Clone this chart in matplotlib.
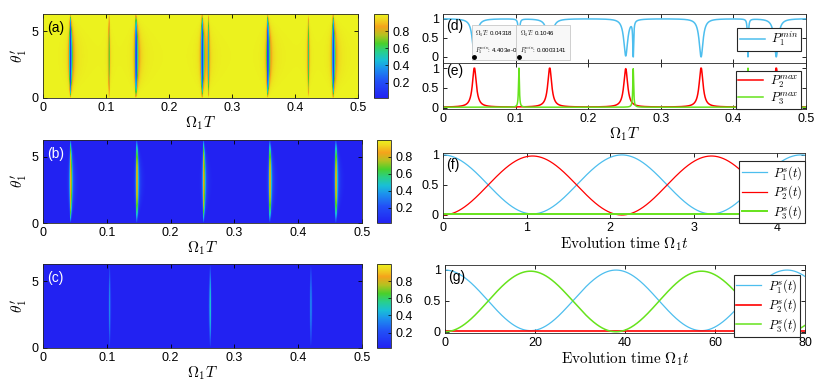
import numpy as np
import matplotlib
matplotlib.use('Agg')
import matplotlib.pyplot as plt
from matplotlib.colors import LinearSegmentedColormap

plt.rcParams['font.family'] = ['Liberation Sans', 'DejaVu Sans']
plt.rcParams['mathtext.fontset'] = 'cm'
plt.rcParams['font.size'] = 9

# Resonance positions (Omega_1 T) (a)-(e)
strong_pos = [0.0432, 0.147, 0.2517, 0.3555, 0.459]    # P2 resonances
narrow_pos = [0.1046, 0.262, 0.42]                     # P3 resonances
strong_height = [1.0, 1.0, 0.97, 1.0, 1.0]
narrow_height = [1.0, 0.97, 1.0]
strong_width = 0.0032
narrow_width = 0.0007
# thin stripes in (c) only reach these colours on screen
heat_strong_height = [0.98, 0.98, 0.96, 0.98, 0.97]
heat_narrow_height = [0.5, 0.72, 0.55]
heat_width_left = 0.0012
heat_width_right = 0.0024
heat_narrow_width = 0.0008
baseline = 0.015

# data tips in (d)
tip_x = [0.04318, 0.1046]
tip_xtxt = ['0.04318', '0.1046']
tip_ptxt = ['4.403e-06', '0.0003141']

# time evolution (f) and (g)
f_tmax = 4.33
f_half_period = 1.07
g_tmax = 80
g_half_period = 19.0
swap_peak = 0.98
leak = 0.012

blue = '#4dbeee'
red = '#ff0000'
green = '#66e31c'

cmap = LinearSegmentedColormap.from_list('parula_like', [
    (0.0, '#2222f2'), (0.2, '#2250f6'), (0.35, '#1c92ee'), (0.45, '#19bfd6'),
    (0.55, '#28cf8c'), (0.65, '#48d02c'), (0.75, '#b4c220'), (0.85, '#f5a31b'),
    (0.93, '#f0d21f'), (1.0, '#ecf21e')])


def lorentz(x, c, wl, wr):
    w = np.where(x < c, wl, wr)
    return 1.0 / (1.0 + ((x - c) / w) ** 2)


def style(ax):
    ax.tick_params(direction='in', length=3, width=0.6, top=True, right=True,
                   labelsize=9, pad=3)
    for s in ax.spines.values():
        s.set_linewidth(0.6)
        s.set_color('#262626')


def legend(ax, anchor, lspace=0.15):
    leg = ax.legend(loc='upper right', bbox_to_anchor=anchor, fontsize=9, fancybox=False,
                    edgecolor='#262626', framealpha=1, handlelength=2.0, handletextpad=0.5,
                    borderpad=0.2, labelspacing=lspace, borderaxespad=0.0)
    leg.get_frame().set_linewidth(0.8)


fig = plt.figure(figsize=(8.3, 3.9), dpi=100)
W, H = 830.0, 390.0


def box(x0, y0, x1, y1):
    return [x0 / W, 1 - y1 / H, (x1 - x0) / W, (y1 - y0) / H]


# ---- heat maps ----
nx, ny = 1264, 168
xg = (np.arange(nx) + 0.5) * 0.5 / nx
tg = (np.arange(ny) + 0.5) * 2 * np.pi / ny
X, TH = np.meshgrid(xg, tg)
S = np.sin(TH / 2) + 1e-6

heat2 = np.zeros_like(X)
for c, h in zip(strong_pos, heat_strong_height):
    heat2 += h * lorentz(X, c, heat_width_left * S, heat_width_right * S)
heat3 = np.zeros_like(X)
for c, h in zip(narrow_pos, heat_narrow_height):
    heat3 += h * lorentz(X, c, heat_narrow_width * S, heat_narrow_width * S)
heat1 = np.clip(1 - heat2 - heat3, 0, 1)

left_boxes = [(43, 14, 358, 98), (43, 140, 362, 223), (43, 264, 362, 348)]
cbar_boxes = [(374, 14, 388, 98), (377, 140, 391, 223), (377, 264, 391, 348)]
fields = [heat1, np.clip(heat2, 0, 1), np.clip(heat3, 0, 1)]
labels = ['(a)', '(b)', '(c)']
label_colors = ['black', 'white', 'white']

for bx, cb, field, lab, lc in zip(left_boxes, cbar_boxes, fields, labels, label_colors):
    ax = fig.add_axes(box(*bx))
    im = ax.imshow(field, extent=[0, 0.5, 0, 2 * np.pi], origin='lower', aspect='auto',
                   cmap=cmap, vmin=0.02, vmax=1.0, interpolation='antialiased',
                   interpolation_stage='data')
    ax.set_xlim(0, 0.5)
    ax.set_ylim(0, 2 * np.pi)
    ax.set_xticks([0, 0.1, 0.2, 0.3, 0.4, 0.5])
    ax.set_xticklabels(['0', '0.1', '0.2', '0.3', '0.4', '0.5'])
    ax.set_yticks([0, 5])
    style(ax)
    ax.set_xlabel(r'$\Omega_1T$', fontsize=11, labelpad=0)
    ax.set_ylabel(r"$\theta_1'$", fontsize=11, labelpad=2)
    ax.text(0.012, 0.92, lab, transform=ax.transAxes, color=lc, fontsize=10, va='top')
    cax = fig.add_axes(box(*cb))
    cbar = fig.colorbar(im, cax=cax, ticks=[0.2, 0.4, 0.6, 0.8])
    cbar.ax.tick_params(direction='in', length=2, width=0.5, labelsize=9)
    cbar.outline.set_linewidth(0.6)
    cbar.outline.set_edgecolor('#262626')

# ---- (d) and (e) ----
x = np.linspace(0, 0.5, 6001)
p2 = np.full_like(x, baseline)
for c, h in zip(strong_pos, strong_height):
    p2 += h * lorentz(x, c, strong_width, strong_width)
p3 = np.full_like(x, baseline)
for c, h in zip(narrow_pos, narrow_height):
    p3 += h * lorentz(x, c, narrow_width, narrow_width)
p1 = np.clip(1 - (p2 - baseline) - (p3 - baseline), 0, 1)
p2 = np.clip(p2, 0, 1)
p3 = np.clip(p3, 0, 1)

axd = fig.add_axes(box(443, 14, 806, 63))
axd.plot(x, p1, color=blue, lw=1.1, label=r'$P_1^{min}$')
axd.set_xlim(0, 0.5)
axd.set_ylim(-0.16, 1.12)
axd.set_yticks([0, 0.5, 1])
axd.set_yticklabels(['0', '0.5', '1'])
axd.set_xticks([0, 0.1, 0.2, 0.3, 0.4, 0.5])
axd.set_xticklabels([])
style(axd)
axd.text(0.008, 0.9, '(d)', transform=axd.transAxes, fontsize=10, va='top')
legend(axd, (0.985, 0.72))

# data tips
for i, (tx, txt, ptxt) in enumerate(zip(tip_x, tip_xtxt, tip_ptxt)):
    axd.plot([tx], [0], 'o', color='black', ms=2.5, zorder=6 + 2 * i)
    axd.text(tx + 0.0012, 0.38, r'$\Omega_1T$: ' + txt + '\n' + r'$P_1^{min}$: ' + ptxt,
             fontsize=4.4, va='center', ha='left', zorder=5 + 2 * i, linespacing=1.7,
             bbox=dict(boxstyle='square,pad=0.6', fc='#f8f8f8', ec='#c8c8c8', lw=0.6))

axe = fig.add_axes(box(443, 63, 806, 109))
axe.plot(x, p2, color=red, lw=1.1, label=r'$P_2^{max}$')
axe.plot(x, p3, color=green, lw=1.1, label=r'$P_3^{max}$')
axe.set_xlim(0, 0.5)
axe.set_ylim(-0.03, 1.13)
axe.set_yticks([0, 0.5, 1])
axe.set_yticklabels(['0', '0.5', '1'])
axe.set_xticks([0, 0.1, 0.2, 0.3, 0.4, 0.5])
axe.set_xticklabels(['0', '0.1', '0.2', '0.3', '0.4', '0.5'])
style(axe)
axe.set_xlabel(r'$\Omega_1T$', fontsize=11, labelpad=0)
axe.text(0.008, 0.97, '(e)', transform=axe.transAxes, fontsize=10, va='top')
legend(axe, (0.985, 0.83), lspace=0.1)

# ---- (f) ----
tf = np.linspace(0, f_tmax, 800)
f2 = swap_peak * np.sin(np.pi * tf / (2 * f_half_period)) ** 2
f3 = np.full_like(tf, leak)
f1 = 1 - f2 - f3 + 0.01

axf = fig.add_axes(box(443, 153, 805, 218))
axf.plot(tf, f1, color=blue, lw=0.9, label=r'$P_1^s(t)$')
axf.plot(tf, f2, color=red, lw=0.9, label=r'$P_2^s(t)$')
axf.plot(tf, f3, color=green, lw=1.4, label=r'$P_3^s(t)$')
axf.set_xlim(0, f_tmax)
axf.set_ylim(-0.05, 1.03)
axf.set_yticks([0, 0.5, 1])
axf.set_yticklabels(['0', '0.5', '1'])
axf.set_xticks([0, 1, 2, 3, 4])
style(axf)
axf.set_xlabel(r'$\mathrm{Evolution\ time}\ \Omega_1 t$', fontsize=11, labelpad=1)
axf.text(0.008, 0.93, '(f)', transform=axf.transAxes, fontsize=10, va='top')
legend(axf, (1.0, 0.87))

# ---- (g) ----
tg2 = np.linspace(0, g_tmax, 800)
g3 = swap_peak * np.sin(np.pi * tg2 / (2 * g_half_period)) ** 2
g2 = np.full_like(tg2, leak)
g1 = 1 - g3 - g2 + 0.01

axg = fig.add_axes(box(445, 265, 805, 333))
axg.plot(tg2, g1, color=blue, lw=0.9, label=r'$P_1^s(t)$')
axg.plot(tg2, g2, color=red, lw=1.2, label=r'$P_2^s(t)$')
axg.plot(tg2, g3, color=green, lw=1.1, label=r'$P_3^s(t)$')
axg.set_xlim(0, g_tmax)
axg.set_ylim(-0.02, 1.08)
axg.set_yticks([0, 0.5, 1])
axg.set_yticklabels(['0', '0.5', '1'])
axg.set_xticks([0, 20, 40, 60, 80])
style(axg)
axg.set_xlabel(r'$\mathrm{Evolution\ time}\ \Omega_1 t$', fontsize=11, labelpad=1)
axg.text(0.008, 0.93, '(g)', transform=axg.transAxes, fontsize=10, va='top')
legend(axg, (0.985, 0.86))

fig.savefig('out.png', dpi=100)
